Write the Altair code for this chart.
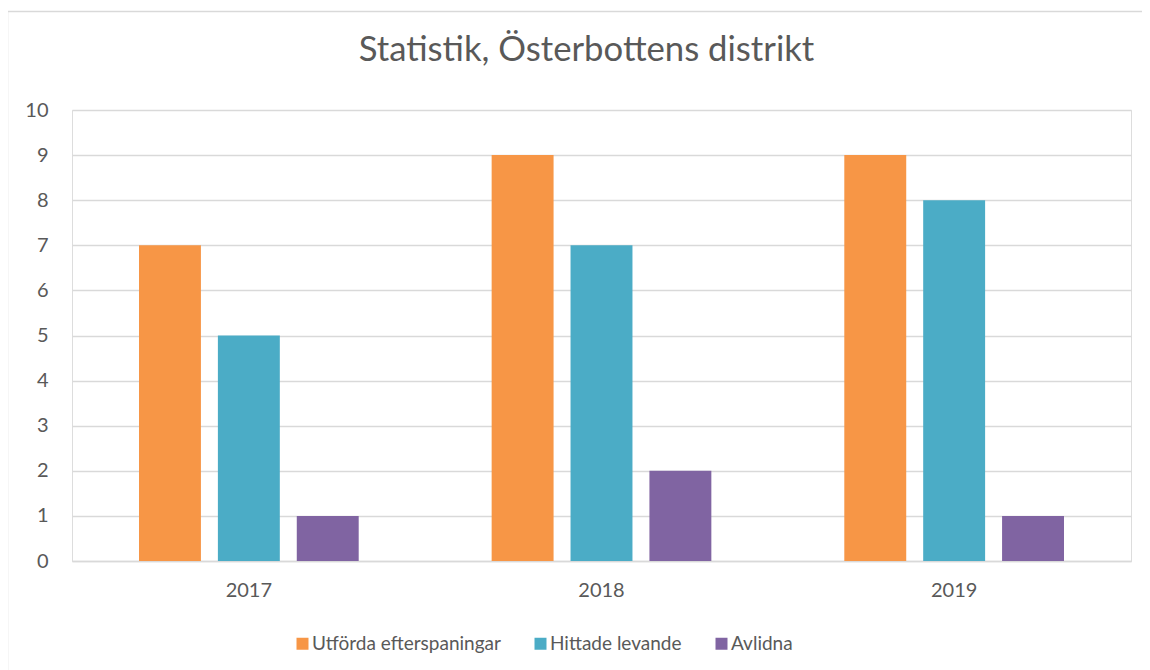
import altair as alt
import pandas as pd

years = ["2017", "2018", "2019"]
series = ["Utförda efterspaningar", "Hittade levande", "Avlidna"]
utforda = [7, 9, 9]
hittade = [5, 7, 8]
avlidna = [1, 2, 1]
colors = ["#F79646", "#4BACC6", "#8064A2"]
y_ticks = list(range(0, 11))

rows = []
for vals, s in zip([utforda, hittade, avlidna], series):
    for yr, v in zip(years, vals):
        rows.append({"year": yr, "series": s, "value": v})
df = pd.DataFrame(rows)

FONT = "Lato"
GREY = "#595959"
LINE = "#D9D9D9"

bars = alt.Chart(df).mark_bar().encode(
    x=alt.X("year:N", sort=years,
            scale=alt.Scale(paddingInner=0.377, paddingOuter=0.19),
            axis=alt.Axis(title=None, labelAngle=0, ticks=False, tickSize=0,
                          labelPadding=19, domainColor=LINE, domainWidth=1.5,
                          labelFontSize=20, labelColor=GREY, labelFont=FONT, grid=False)),
    xOffset=alt.XOffset("series:N", sort=series,
                        scale=alt.Scale(paddingInner=0.215, paddingOuter=0)),
    y=alt.Y("value:Q", scale=alt.Scale(domain=[0, 10]),
            axis=alt.Axis(title=None, values=y_ticks, ticks=False, tickSize=0, domain=False,
                          labelPadding=24, labelFontSize=20, labelColor=GREY, labelFont=FONT,
                          gridColor=LINE, gridWidth=1.5)),
    color=alt.Color("series:N", sort=series,
                    scale=alt.Scale(domain=series, range=colors),
                    legend=alt.Legend(title=None, orient="none", direction="horizontal",
                                      legendX=221, legendY=524, symbolType="square",
                                      symbolSize=144, symbolStrokeWidth=0, labelOffset=0,
                                      columnPadding=30, labelFontSize=19, labelColor=GREY,
                                      labelFont=FONT, labelLimit=0)),
)

border_df = pd.DataFrame({"k": [0]})
left_border = alt.Chart(border_df).mark_rule(color=LINE, strokeWidth=1.5).encode(
    x=alt.value(-64.5), y=alt.value(-98.5), y2=alt.value(700))
top_border = alt.Chart(border_df).mark_rule(color=LINE, strokeWidth=1.5).encode(
    x=alt.value(-64.5), x2=alt.value(1200), y=alt.value(-98.5))

chart = alt.layer(left_border, top_border, bars).properties(
    width=1059, height=451,
    title=alt.TitleParams("Statistik, Österbottens distrikt", font=FONT, fontSize=34.7,
                          fontWeight="normal", color=GREY, anchor="middle", frame="group",
                          baseline="alphabetic", dx=-15, offset=-84.5),
    autosize=alt.AutoSizeParams(type="none"),
    padding={"left": 64, "top": 102, "right": 11, "bottom": 109},
).configure_view(stroke=None).configure(background="white")

chart.save("out.html", embed_options={"renderer": "svg", "actions": False})
